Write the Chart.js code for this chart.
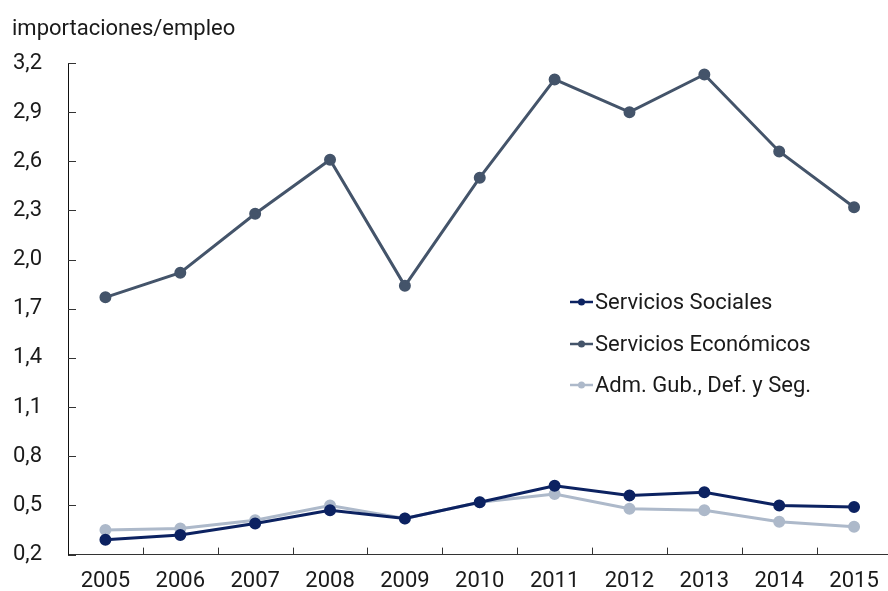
<!DOCTYPE html>
<html>
<head>
<meta charset="utf-8">
<script src="https://cdn.jsdelivr.net/npm/chart.js@4"></script>
<style>
  html, body { margin: 0; padding: 0; background: #fff; overflow: hidden; }
  #wrap { width: 899px; height: 591px; }
</style>
</head>
<body>
<div id="wrap"><canvas id="myChart"></canvas></div>
<script>
const years = ['2005', '2006', '2007', '2008', '2009', '2010', '2011', '2012', '2013', '2014', '2015'];
const serviciosSociales = [0.29, 0.32, 0.39, 0.47, 0.42, 0.52, 0.62, 0.56, 0.58, 0.50, 0.49];
const serviciosEconomicos = [1.77, 1.92, 2.28, 2.61, 1.84, 2.50, 3.10, 2.90, 3.13, 2.66, 2.32];
const admGub = [0.35, 0.36, 0.41, 0.50, 0.42, 0.52, 0.57, 0.48, 0.47, 0.40, 0.37];

const textColor = '#1a1a1a';
const fontFamily = 'Roboto, "Noto Sans", sans-serif';

// little tick marks drawn inward, plus the legend inside the plot
const extras = {
  id: 'extras',
  afterDraw(chart) {
    const c = chart.ctx;
    const x = chart.scales.x, y = chart.scales.y;
    c.save();
    c.strokeStyle = '#333';
    c.lineWidth = 1;
    y.ticks.forEach((t, i) => {
      const py = Math.round(y.getPixelForTick(i)) + 0.5;
      c.beginPath();
      c.moveTo(x.left, py);
      c.lineTo(x.left + 8, py);
      c.stroke();
    });
    for (let i = 0; i < x.ticks.length - 1; i++) {
      const px = Math.round((x.getPixelForTick(i) + x.getPixelForTick(i + 1)) / 2) + 0.5;
      c.beginPath();
      c.moveTo(px, y.bottom);
      c.lineTo(px, y.bottom - 7);
      c.stroke();
    }
    // legend
    c.font = '22px ' + fontFamily;
    c.textBaseline = 'middle';
    const rows = [302, 344, 385];
    chart.data.datasets.forEach((ds, i) => {
      const lx = 570, ly = rows[i];
      c.strokeStyle = ds.borderColor;
      c.lineWidth = 2.5;
      c.beginPath();
      c.moveTo(lx, ly);
      c.lineTo(lx + 23, ly);
      c.stroke();
      c.fillStyle = ds.borderColor;
      c.beginPath();
      c.arc(lx + 11.5, ly, 3.5, 0, Math.PI * 2);
      c.fill();
      c.fillStyle = textColor;
      c.fillText(ds.label, lx + 25, ly + 1);
    });
    c.restore();
  }
};

const ctx = document.getElementById('myChart');

new Chart(ctx, {
  type: 'line',
  data: {
    labels: years,
    datasets: [
      {
        label: 'Servicios Sociales',
        data: serviciosSociales,
        borderColor: '#0c2261',
        backgroundColor: '#0c2261',
        borderWidth: 3,
        pointRadius: 4.5,
        order: 1
      },
      {
        label: 'Servicios Económicos',
        data: serviciosEconomicos,
        borderColor: '#44546a',
        backgroundColor: '#44546a',
        borderWidth: 3,
        pointRadius: 4.5,
        order: 2
      },
      {
        label: 'Adm. Gub., Def. y Seg.',
        data: admGub,
        borderColor: '#adb9ca',
        backgroundColor: '#adb9ca',
        borderWidth: 3,
        pointRadius: 4.5,
        order: 3
      }
    ]
  },
  options: {
    responsive: true,
    maintainAspectRatio: false,
    animation: false,
    layout: { padding: { left: 12, top: 16, right: 0, bottom: -18 } },
    scales: {
      x: {
        offset: true,
        grid: { display: false, drawTicks: false },
        border: { display: true, color: '#333', width: 1 },
        ticks: { color: textColor, font: { family: fontFamily, size: 22 }, padding: 14, maxRotation: 0 }
      },
      y: {
        min: 0.2,
        max: 3.2,
        grid: { display: false, drawTicks: false },
        border: { display: true, color: '#111', width: 1 },
        ticks: {
          stepSize: 0.3,
          color: textColor,
          padding: 26,
          font: { family: fontFamily, size: 22, lineHeight: 0.4 },
          callback: v => v.toFixed(1).replace('.', ',')
        },
        afterFit: s => { s.width = 56; }
      }
    },
    plugins: {
      legend: { display: false },
      tooltip: { enabled: false },
      title: {
        display: true,
        text: 'importaciones/empleo',
        align: 'start',
        color: textColor,
        font: { family: fontFamily, size: 22, weight: 'normal' },
        padding: { top: 0, bottom: 20.6 }
      }
    }
  },
  plugins: [extras]
});
</script>
</body>
</html>
